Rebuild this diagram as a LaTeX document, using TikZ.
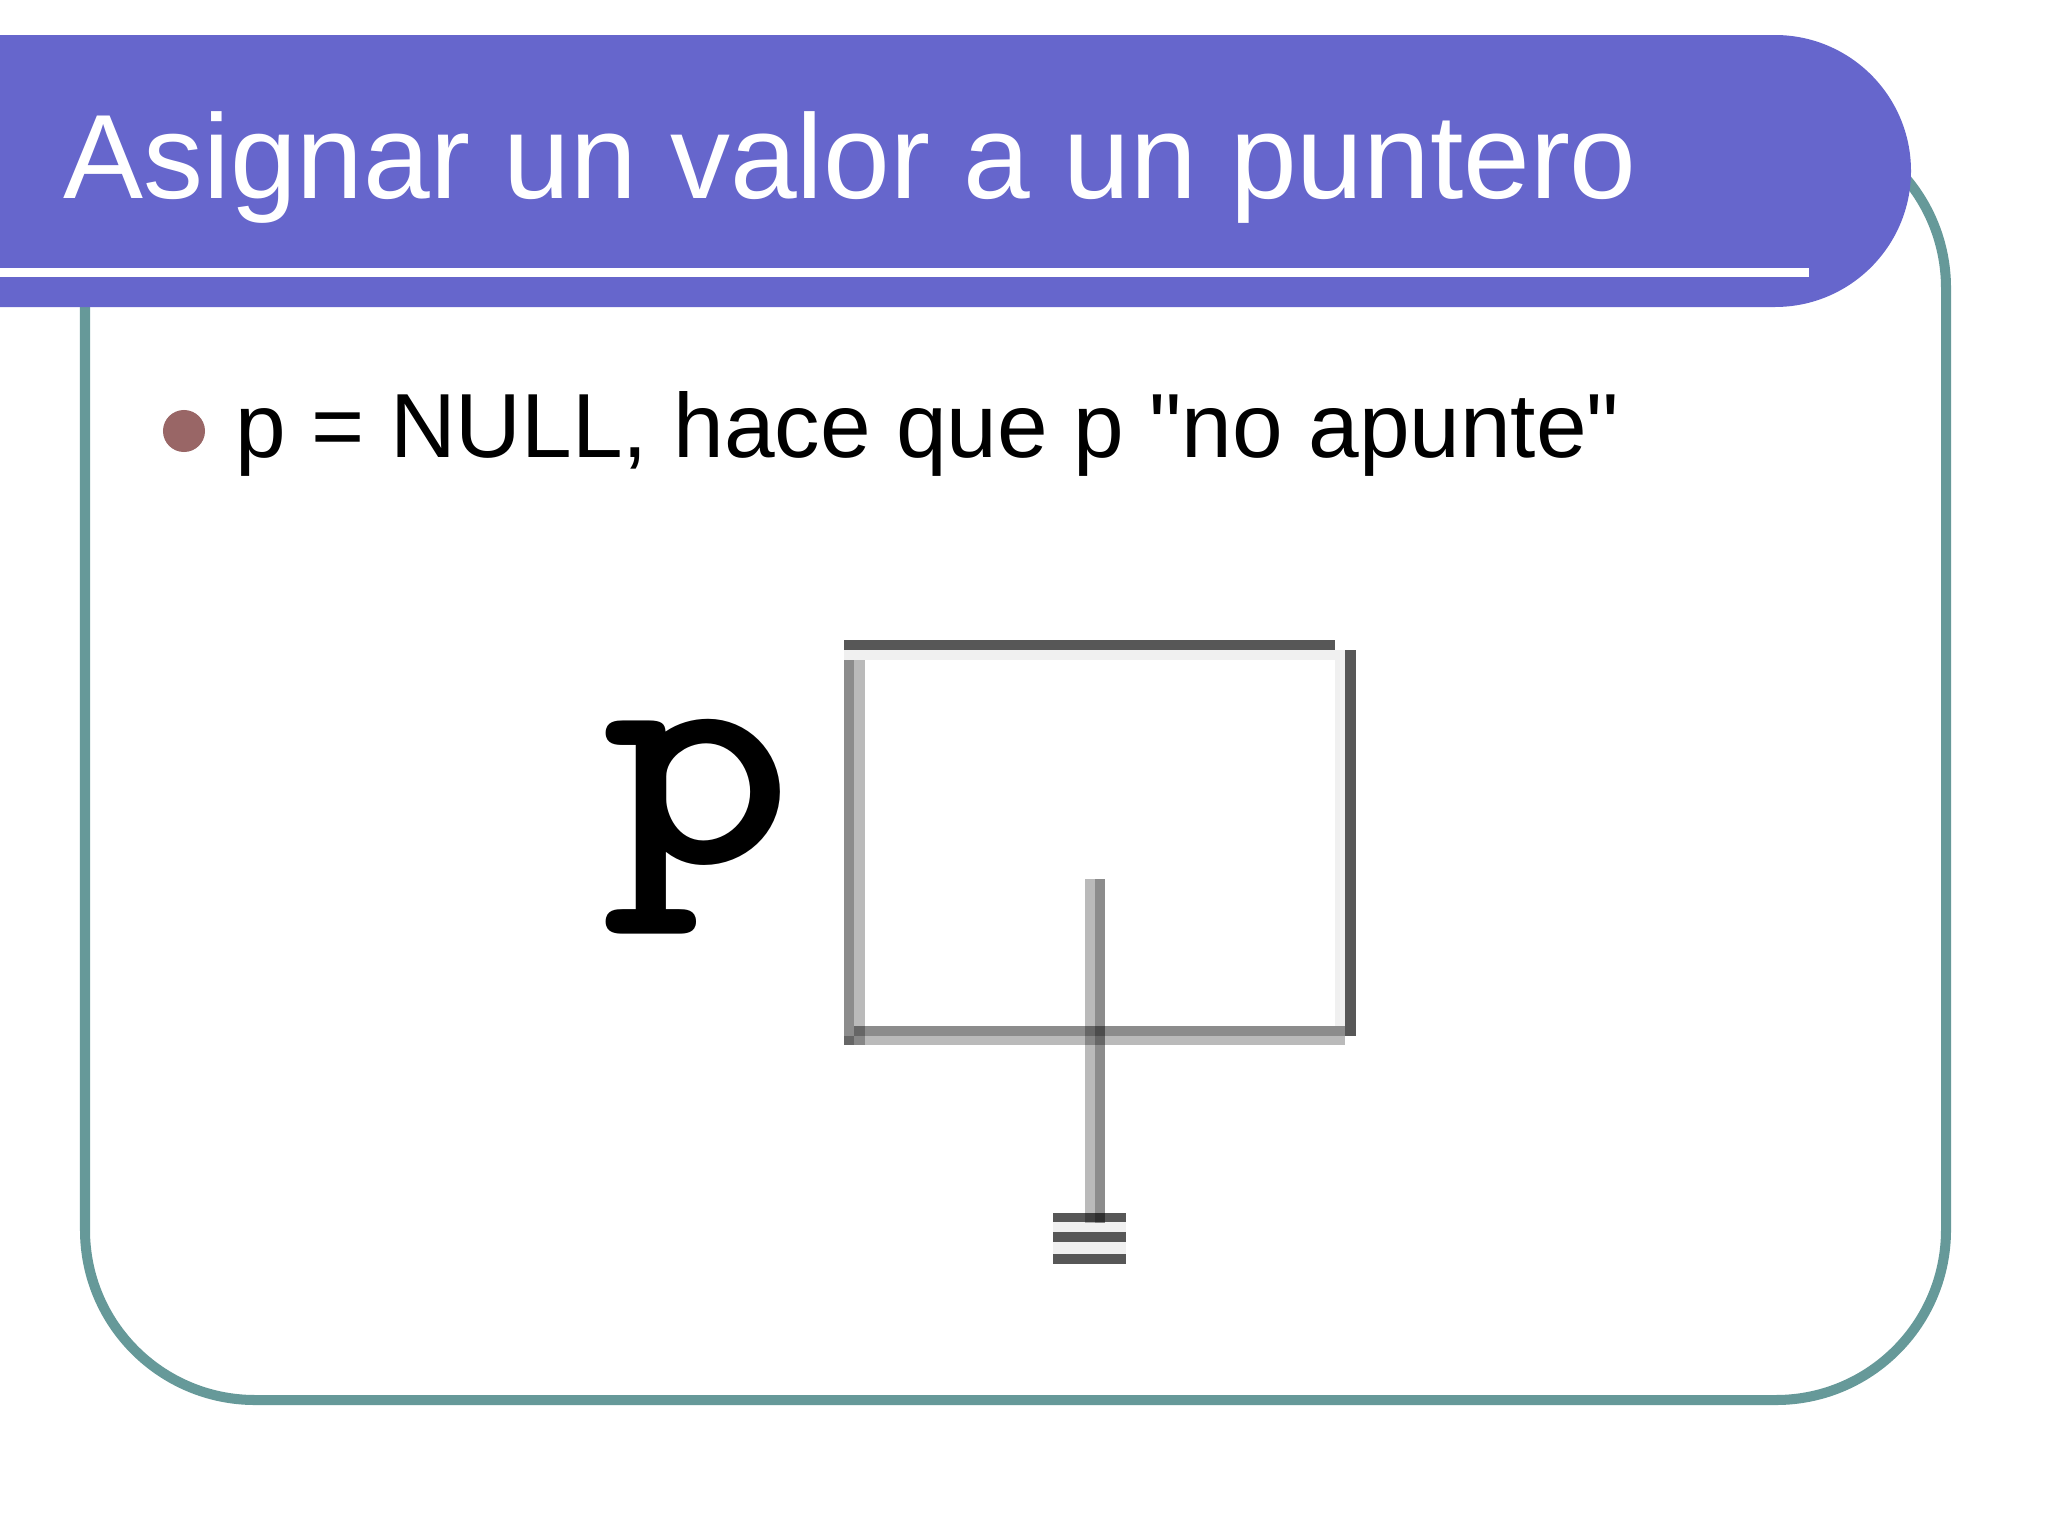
\documentclass[tikz,border=0pt]{standalone}
\usepackage{fontspec}
\setmainfont{Liberation Sans}
\begin{document}
\begin{tikzpicture}[x=0.01cm,y=-0.01cm]
\definecolor{titlec}{RGB}{102,102,204}
\definecolor{framec}{RGB}{102,153,153}
\definecolor{bulletc}{RGB}{153,102,102}
\tikzset{
  darkbar/.style={fill=black, fill opacity=0.66},
  midbar/.style={fill=black, fill opacity=0.45},
  lightbar/.style={fill=black, fill opacity=0.27},
  faintbar/.style={fill=black, fill opacity=0.06},
  txt/.style={anchor=base west, inner sep=0pt}
}
\useasboundingbox (0,0) rectangle (2048,1536);
\fill[white] (0,0) rectangle (2048,1536);
\clip (0,0) rectangle (2048,1536);
% frame
\draw[framec, line width=2.85pt, rounded corners=1.7cm] (85,118) rectangle (1946,1400);
% title bar
\fill[titlec, rounded corners=1.36cm] (-400,35) rectangle (1911,307);
\fill[white] (0,268) rectangle (1809,277);
\node[txt, text=white, font=\fontsize{34.1}{40}\selectfont] (title) at (63,198) {Asignar un valor a un puntero};
% bullet
\node[circle, fill=bulletc, minimum size=0.42cm, inner sep=0pt] (bullet) at (184,431) {};
\node[txt, font=\fontsize{25.9}{31}\selectfont] (line1) at (235,457) {p = NULL, hace que p \textquotedbl no apunte\textquotedbl};
% variable name
\node[txt, font=\fontsize{93}{100}\selectfont\ttfamily\bfseries] (pname) at (602,863) {\scalebox{1.11}[1]{p}};
% box
\fill[darkbar] (844,639.5) rectangle (1335,649.5);
\fill[faintbar] (844,649.5) rectangle (1345,660);
\fill[midbar] (844,660) rectangle (854,1045);
\fill[lightbar] (854,660) rectangle (865,1045);
\fill[faintbar] (1335,660) rectangle (1345,1026);
\fill[darkbar] (1345,649.5) rectangle (1356,1036);
\fill[midbar] (854,1026) rectangle (1345,1036);
\fill[lightbar] (844,1036) rectangle (1345,1045);
% stem to ground
\coordinate (stemtop) at (1095,879);
\coordinate (stembot) at (1095,1223);
\fill[lightbar] (1085,879) rectangle (1095,1223);
\fill[midbar] (1095,879) rectangle (1104.5,1223);
% ground symbol
\fill[darkbar] (1053,1213) rectangle (1126,1222);
\fill[faintbar] (1053,1222) rectangle (1126,1232);
\fill[darkbar] (1053,1232) rectangle (1126,1242);
\fill[faintbar] (1053,1242) rectangle (1126,1254);
\fill[darkbar] (1053,1254) rectangle (1126,1264);
\end{tikzpicture}
\end{document}
